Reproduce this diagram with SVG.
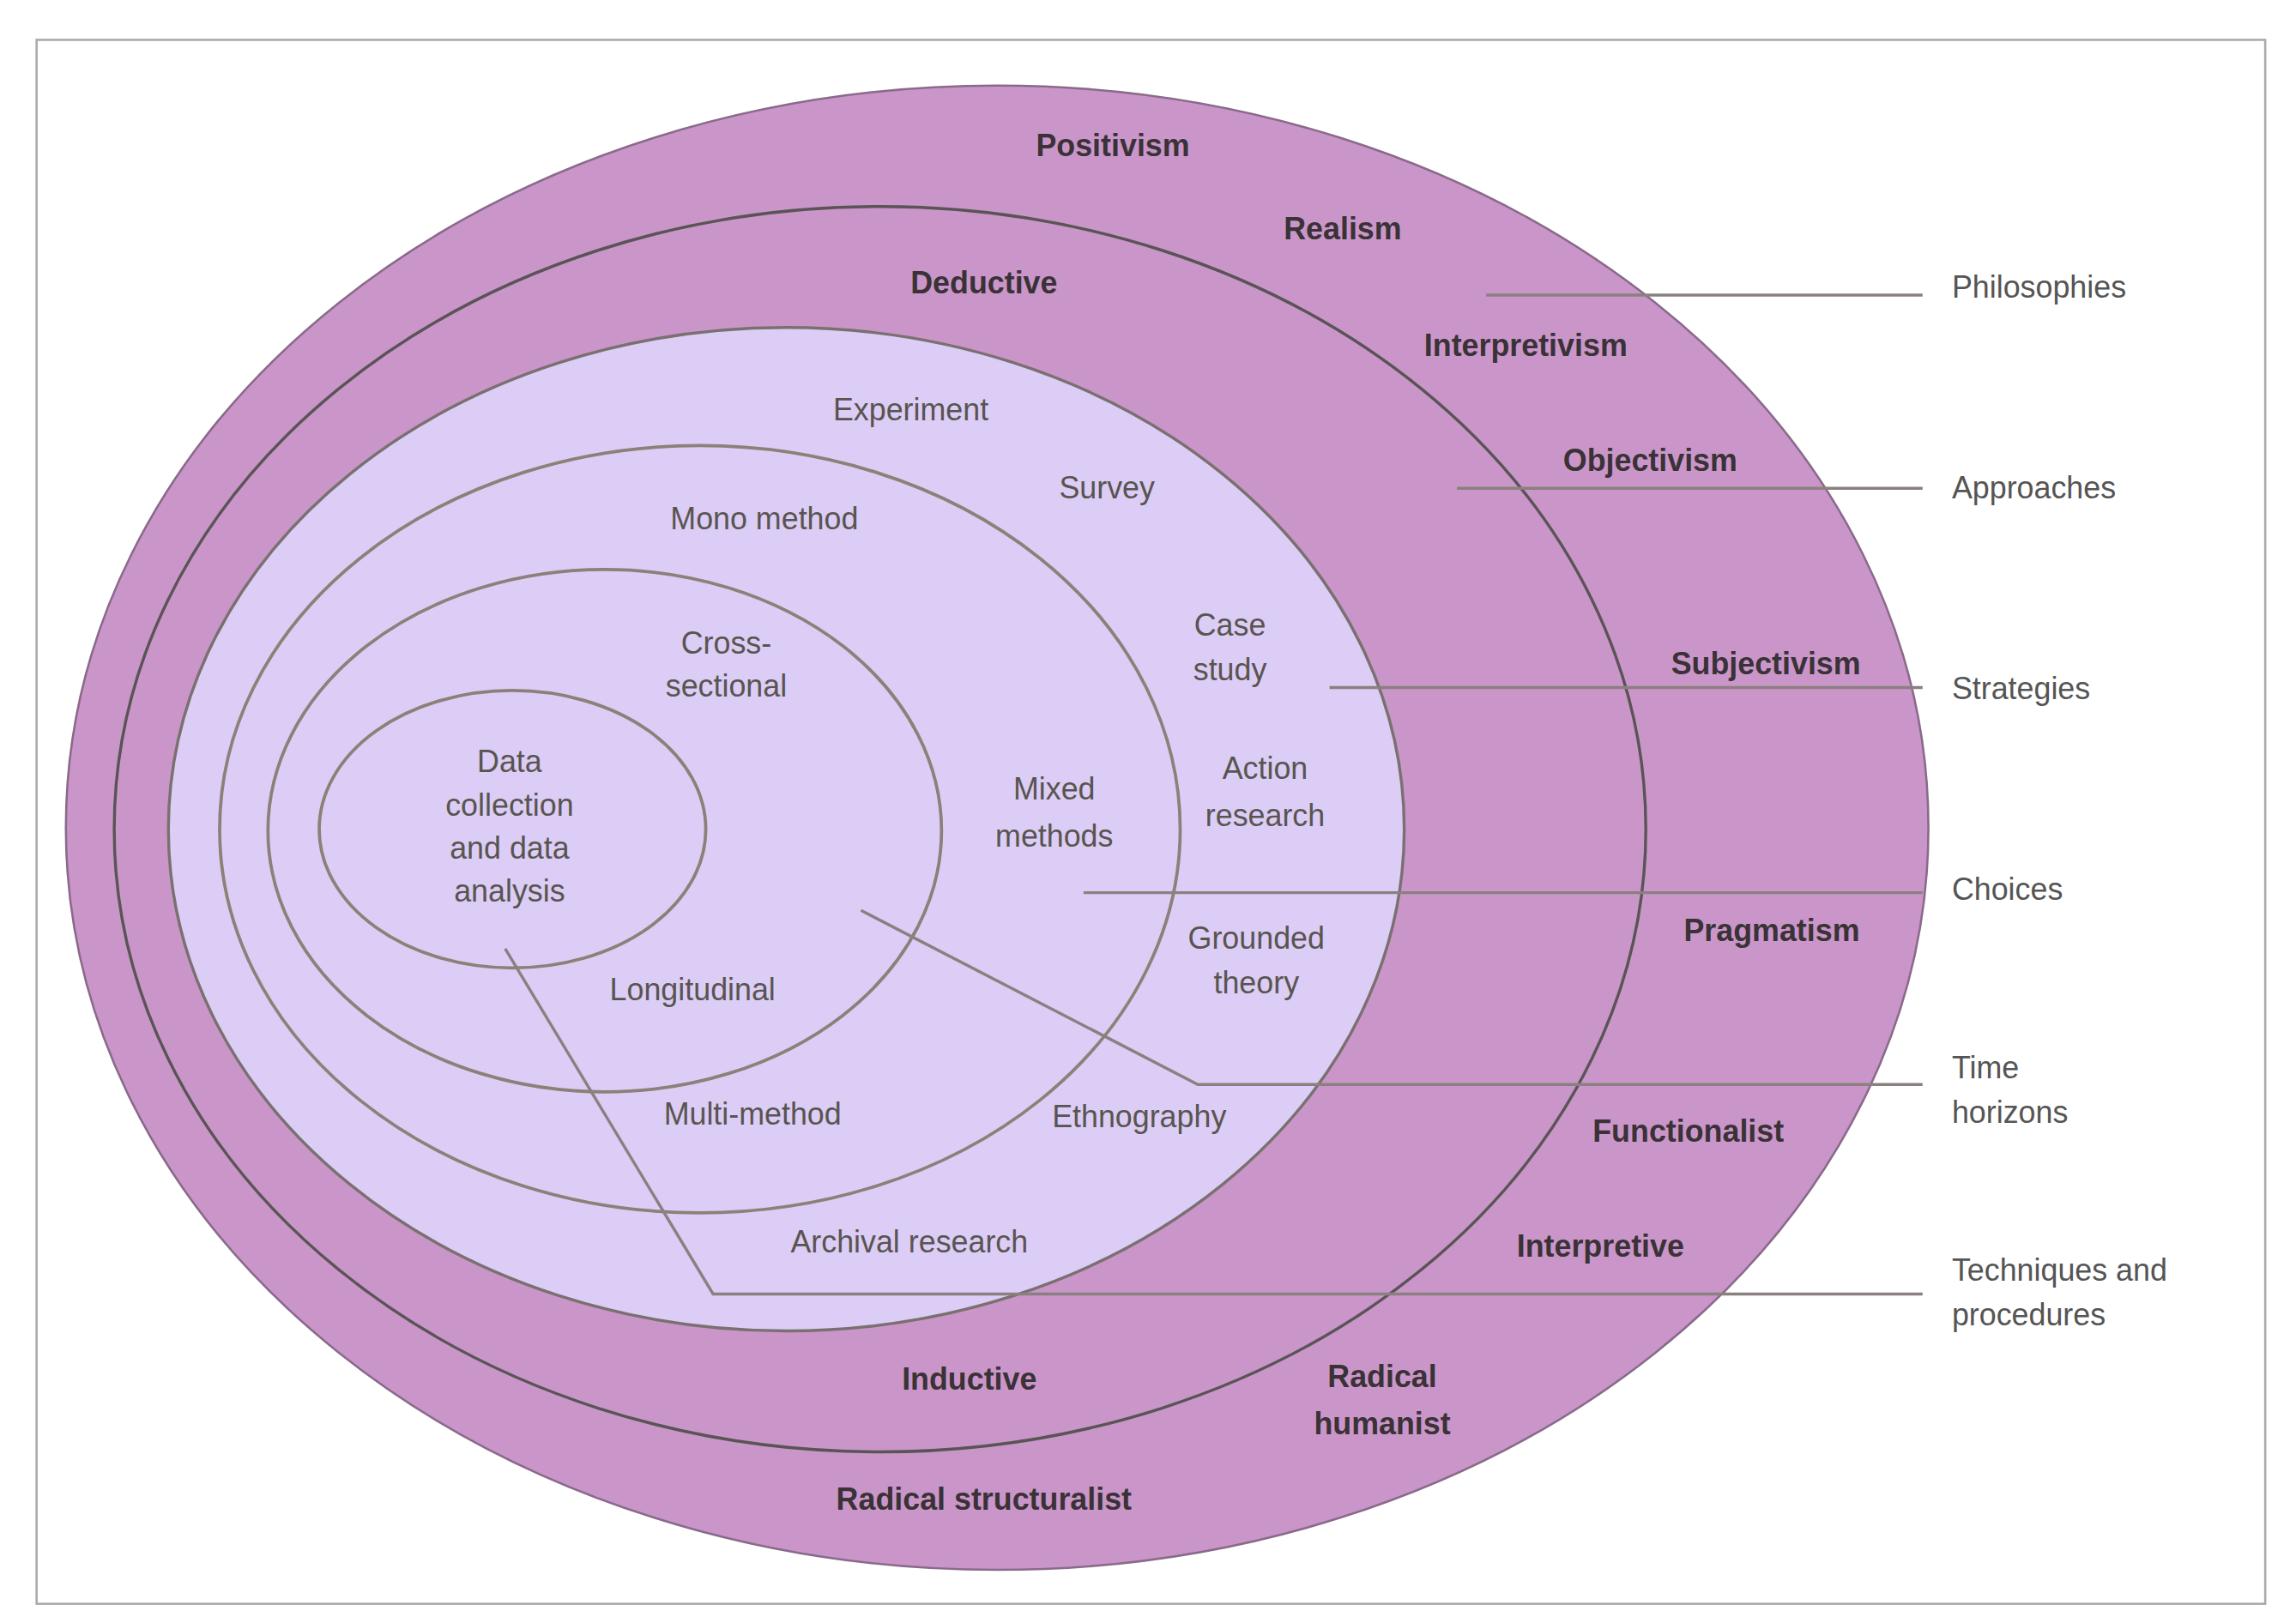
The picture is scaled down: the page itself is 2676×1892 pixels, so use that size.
<svg xmlns="http://www.w3.org/2000/svg" width="2676" height="1892" viewBox="0 0 2676 1892">
<style>
.e{stroke:#5a5456;stroke-width:2;fill:none}
.ei{stroke:#8c8078;stroke-width:2.2;fill:none}
.b{font-family:"Liberation Sans",Arial,sans-serif;font-size:21px;font-weight:bold;fill:#3a3236;text-anchor:middle}
.n{font-family:"Liberation Sans",Arial,sans-serif;font-size:21px;fill:#5a5450;text-anchor:middle}
.r{font-family:"Liberation Sans",Arial,sans-serif;font-size:21px;fill:#555;text-anchor:start}
.c{stroke:#8a8080;stroke-width:2;fill:none}
</style>
<rect width="2676" height="1892" fill="#fff"/>
<g transform="scale(1.7066,1.72)">
<rect x="25" y="27" width="1522" height="1060" fill="#fff" stroke="#aaa" stroke-width="1.5"/>
<g id="philosophies"><ellipse cx="681" cy="561" rx="636" ry="503" fill="#ca96ca" stroke="#8a6a8a" stroke-width="1.5"/>
<text class="b" x="760" y="106">Positivism</text><text class="b" x="917" y="162">Realism</text><text class="b" x="1042" y="241">Interpretivism</text><text class="b" x="1127" y="319">Objectivism</text><text class="b" x="1206" y="457">Subjectivism</text><text class="b" x="1210" y="638">Pragmatism</text><text class="b" x="1153" y="774">Functionalist</text><text class="b" x="1093" y="852">Interpretive</text><text class="b" x="944" y="940">Radical</text><text class="b" x="944" y="972">humanist</text><text class="b" x="672" y="1023">Radical structuralist</text></g>
<g id="approaches"><ellipse class="e" cx="601" cy="562" rx="523" ry="422"/>
<text class="b" x="672" y="199">Deductive</text><text class="b" x="662" y="942">Inductive</text></g>
<g id="strategies"><ellipse cx="537" cy="562" rx="422" ry="340" fill="#dbcdf6" stroke="#7a7070" stroke-width="2"/>
<text class="n" x="622" y="285">Experiment</text><text class="n" x="756" y="338">Survey</text><text class="n" x="840" y="431">Case</text><text class="n" x="840" y="461">study</text><text class="n" x="864" y="528">Action</text><text class="n" x="864" y="560">research</text><text class="n" x="858" y="643">Grounded</text><text class="n" x="858" y="673">theory</text><text class="n" x="778" y="764">Ethnography</text><text class="n" x="621" y="849">Archival research</text></g>
<g id="choices"><ellipse class="ei" cx="478" cy="562" rx="328" ry="260"/>
<text class="n" x="522" y="359">Mono method</text><text class="n" x="720" y="542">Mixed</text><text class="n" x="720" y="574">methods</text><text class="n" x="514" y="762">Multi-method</text></g>
<g id="time"><ellipse class="ei" cx="413" cy="563" rx="230" ry="177"/>
<text class="n" x="496" y="443">Cross-</text><text class="n" x="496" y="472">sectional</text><text class="n" x="473" y="678">Longitudinal</text></g>
<g id="techniques"><ellipse class="ei" cx="350" cy="562" rx="132" ry="94"/>
<text class="n" x="348" y="523">Data</text><text class="n" x="348" y="553">collection</text><text class="n" x="348" y="582">and data</text><text class="n" x="348" y="611">analysis</text></g>
<g id="connectors">
<path class="c" d="M1015 200H1313"/><path class="c" d="M995 331H1313"/><path class="c" d="M908 466H1313"/><path class="c" d="M740 605H1313"/><path class="c" d="M588 617L818 735H1313"/><path class="c" d="M345 643L487 877H1313"/>
</g>
<g id="labels"><text class="r" x="1333" y="202">Philosophies</text><text class="r" x="1333" y="338">Approaches</text><text class="r" x="1333" y="474">Strategies</text><text class="r" x="1333" y="610">Choices</text><text class="r" x="1333" y="731">Time</text><text class="r" x="1333" y="761">horizons</text><text class="r" x="1333" y="868">Techniques and</text><text class="r" x="1333" y="898">procedures</text></g>
</g>
</svg>
